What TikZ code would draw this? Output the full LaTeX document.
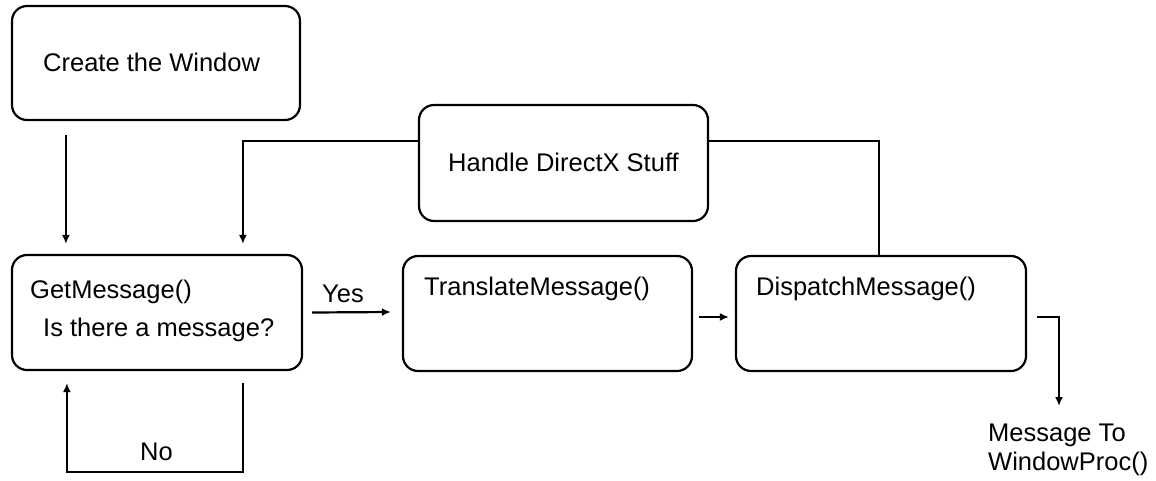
\documentclass[tikz,border=0pt]{standalone}
\usepackage{fontspec}
\setmainfont{Liberation Sans}
\usetikzlibrary{arrows.meta}
\begin{document}
\begin{tikzpicture}[x=1pt,y=-1pt,
  stagebox/.style={draw,line width=2.2pt,rounded corners=15pt,inner sep=0pt},
  txt/.style={inner sep=0pt,anchor=west,font=\fontsize{25.5}{30}\selectfont},
  link/.style={line width=2.2pt},
  arr/.style={link,-{Latex[length=9pt,width=8pt]}}]
\useasboundingbox (0,0) rectangle (1156,480);
\fill[white] (0,0) rectangle (1156,480);

% process boxes
\node[stagebox,minimum width=288pt,minimum height=114pt] (create) at (156,63) {};
\node[stagebox,minimum width=290pt,minimum height=115pt] (getmsg) at (157,312.5) {};
\node[stagebox,minimum width=289pt,minimum height=116pt] (directx) at (563.5,163) {};
\node[stagebox,minimum width=289pt,minimum height=115pt] (translate) at (547.5,313.5) {};
\node[stagebox,minimum width=290pt,minimum height=115pt] (dispatch) at (881,313.5) {};

% box texts
\node[txt] (tcreate) at (43,62) {Create the Window};
\node[txt] (tget) at (30,292) {GetMessage()};
\node[txt] (tquery) at (43,330) {Is there a message?};
\node[txt] (tdx) at (448,162) {Handle DirectX Stuff};
\node[txt] (ttrans) at (424,289) {TranslateMessage()};
\node[txt] (tdisp) at (756,289) {DispatchMessage()};
\node[txt,anchor=north west,align=left] (msg) at (988,424)
  {Message To\\[-1pt]WindowProc()};

% connectors
\draw[arr] ([shift={(55,14)}]create.south west) -- ([shift={(55,-10)}]getmsg.north west);
\draw[arr] ([yshift=22]directx.west) -| ([shift={(232,-10)}]getmsg.north west);
\draw[link] ([yshift=22]directx.east) -| ([xshift=-2]dispatch.north);
\draw[arr] ([xshift=9]getmsg.east) -- ([shift={(-11,-1.5)}]translate.west);
\node[txt] (yes) at (322,294) {Yes};
\draw[arr] ([shift={(6,3.5)}]translate.east) -- ([shift={(-6,3.5)}]dispatch.west);
\draw[arr] ([shift={(10,3.5)}]dispatch.east) -| ([shift={(71,-18)}]msg.north west);
\draw[arr] ([shift={(232,12)}]getmsg.south west) -- ++(0,89)
  -| ([shift={(56,12)}]getmsg.south west);
\node[txt] (no) at (140,452) {No};
\end{tikzpicture}
\end{document}
